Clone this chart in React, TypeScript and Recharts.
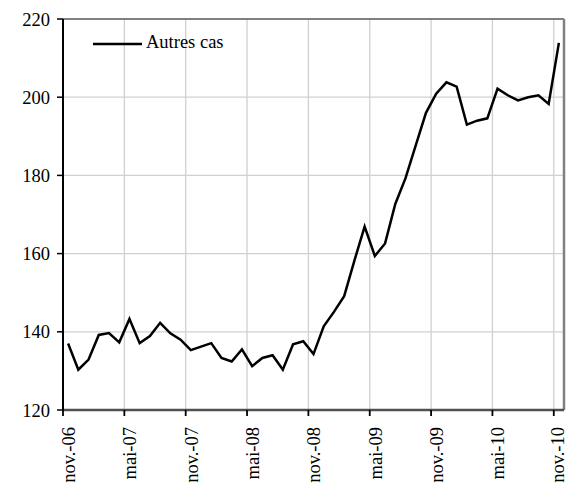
import { CartesianGrid, Legend, Line, LineChart, ReferenceLine, XAxis, YAxis } from 'recharts';

const months = [
  'nov.-06', 'déc.-06', 'janv.-07', 'févr.-07', 'mars-07', 'avr.-07', 'mai-07', 'juin-07', 'juil.-07', 'août-07', 'sept.-07', 'oct.-07',
  'nov.-07', 'déc.-07', 'janv.-08', 'févr.-08', 'mars-08', 'avr.-08', 'mai-08', 'juin-08', 'juil.-08', 'août-08', 'sept.-08', 'oct.-08',
  'nov.-08', 'déc.-08', 'janv.-09', 'févr.-09', 'mars-09', 'avr.-09', 'mai-09', 'juin-09', 'juil.-09', 'août-09', 'sept.-09', 'oct.-09',
  'nov.-09', 'déc.-09', 'janv.-10', 'févr.-10', 'mars-10', 'avr.-10', 'mai-10', 'juin-10', 'juil.-10', 'août-10', 'sept.-10', 'oct.-10',
  'nov.-10',
];

const autresCas = [
  137.0, 130.3, 132.9, 139.2, 139.7, 137.3, 143.3, 137.1, 138.9, 142.3, 139.6, 138.0,
  135.3, 136.2, 137.1, 133.3, 132.4, 135.5, 131.2, 133.3, 134.0, 130.3, 136.8, 137.6,
  134.3, 141.4, 145.1, 149.1, 158.2, 166.9, 159.4, 162.6, 172.7, 179.3, 187.7, 196.0,
  200.9, 203.8, 202.7, 193.0, 194.0, 194.6, 202.2, 200.5, 199.2, 200.0, 200.5, 198.3,
  213.9,
];

const tickLabels = ['nov.-06', 'mai-07', 'nov.-07', 'mai-08', 'nov.-08', 'mai-09', 'nov.-09', 'mai-10', 'nov.-10'];
const yTicks = [120, 140, 160, 180, 200, 220];

// months sit in the middle of their band, ticks on the band edges
const data = months.map((m, i) => ({ month: m, x: i + 0.5, value: autresCas[i] }));
const xTicks = tickLabels.map((_, i) => i * 6);

const FONT = '"Liberation Serif", "Times New Roman", serif';
const FS = 18.5;

function MonthTick({ x, y, payload }: any) {
  const label = tickLabels[Math.round(payload.value / 6)];
  const tx = Math.min(x + 12, 564);
  const ty = y + 9;
  return (
    <text x={tx} y={ty} transform={`rotate(-90, ${tx}, ${ty})`} textAnchor="end" style={{ fontSize: FS, fontFamily: FONT }} fill="#000">
      {label}
    </text>
  );
}

function LegendBox() {
  return (
    <svg width={170} height={30}>
      <line x1={0} x2={49} y1={14} y2={14} stroke="#000" strokeWidth={2.5} />
      <text x={53} y={18} style={{ fontSize: FS, fontFamily: FONT }} fill="#000">
        Autres cas
      </text>
    </svg>
  );
}

export default function App() {
  return (
    <div style={{ position: 'absolute', left: 0, top: 0, fontFamily: FONT }}>
      <LineChart width={567} height={493} data={data} margin={{ top: 19, right: 3, bottom: 0, left: 0 }}>
        <CartesianGrid stroke="#d0d0d0" strokeWidth={1.3} ticks={xTicks as any} />
        <XAxis
          dataKey="x"
          type="number"
          domain={[0, 49]}
          ticks={xTicks}
          interval={0}
          height={83}
          tickSize={6}
          tick={<MonthTick />}
          axisLine={{ stroke: '#505050', strokeWidth: 2.5 }}
          tickLine={{ stroke: '#000', strokeWidth: 1.8 }}
        />
        <YAxis
          type="number"
          domain={[120, 220]}
          ticks={yTicks}
          interval={0}
          width={63}
          tickSize={6}
          tickMargin={7}
          tick={{ fill: '#000', style: { fontSize: FS, fontFamily: FONT } } as any}
          axisLine={{ stroke: '#000', strokeWidth: 2 }}
          tickLine={{ stroke: '#000', strokeWidth: 1.5 }}
        />
        <ReferenceLine y={220} stroke="#808080" strokeWidth={2} />
        <ReferenceLine x={49} stroke="#808080" strokeWidth={2.5} />
        <Legend
          layout="horizontal"
          verticalAlign="middle"
          align="center"
          content={<LegendBox />}
          wrapperStyle={{ left: 93, top: 30, width: 170, height: 30 }}
        />
        <Line
          type="linear"
          dataKey="value"
          name="Autres cas"
          stroke="#000"
          strokeWidth={2.5}
          dot={false}
          activeDot={false}
          isAnimationActive={false}
        />
      </LineChart>
    </div>
  );
}
